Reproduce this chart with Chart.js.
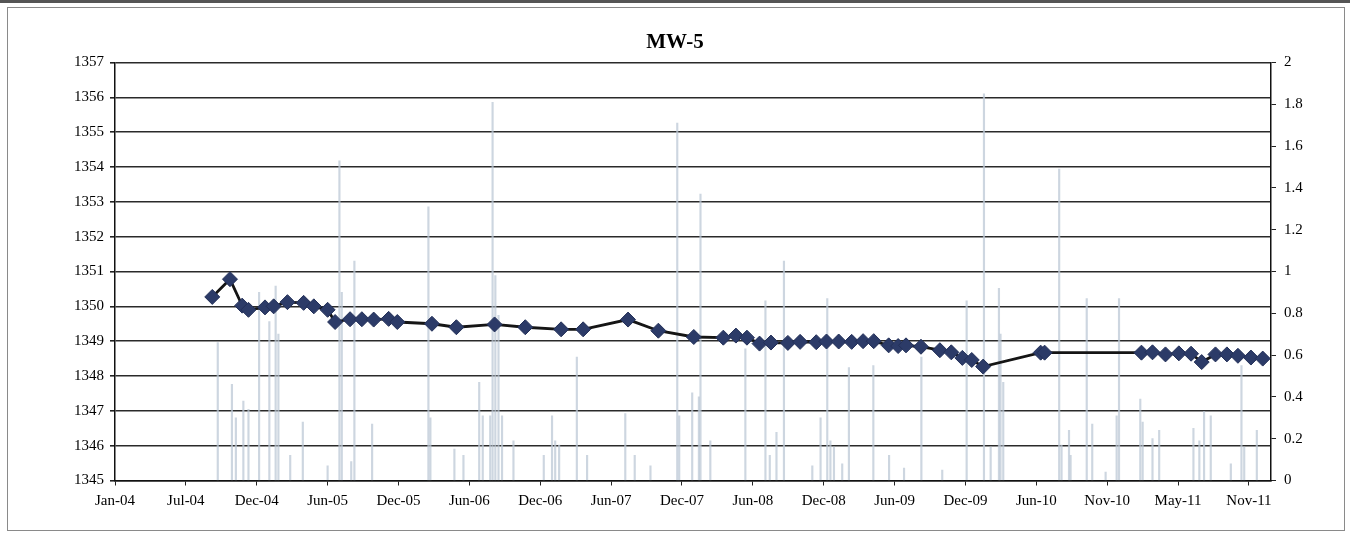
<!DOCTYPE html>
<html>
<head>
<meta charset="utf-8">
<script src="https://cdn.jsdelivr.net/npm/chart.js@4"></script>
<style>
  html, body { margin: 0; padding: 0; background: #fff; }
  #wrap { position: relative; width: 1350px; height: 536px; overflow: hidden; }
  #topband { position: absolute; left: 0; top: 0; width: 1350px; height: 3px; background: #555; }
  #frame { position: absolute; left: 7px; top: 7px; width: 1336px; height: 522px; border: 1px solid #8a8a8a; }
  canvas { position: absolute; left: 0; top: 0; }
</style>
</head>
<body>
<div id="wrap">
  <div id="topband"></div>
  <div id="frame"></div>
  <canvas id="chart" width="1350" height="536"></canvas>
</div>
<script>
// x axis: ticks every 180 days starting Jan 6, 2004
const xTickLabels = ["Jan-04", "Jul-04", "Dec-04", "Jun-05", "Dec-05", "Jun-06", "Dec-06", "Jun-07",
  "Dec-07", "Jun-08", "Dec-08", "Jun-09", "Dec-09", "Jun-10", "Nov-10", "May-11", "Nov-11"];
const xStart = "2004-01-06";
const xEnd = "2012-01-20";
const xTickStep = 180;

// water level (left axis)
const levelDates = [
  "2004-09-09", "2004-10-24", "2004-11-24", "2004-12-10", "2005-01-21", "2005-02-12", "2005-03-19",
  "2005-04-29", "2005-05-25", "2005-06-29", "2005-07-18", "2005-08-25", "2005-09-24", "2005-10-24",
  "2005-12-01", "2005-12-23", "2006-03-21", "2006-05-22", "2006-08-27", "2006-11-13", "2007-02-12",
  "2007-04-09", "2007-08-01", "2007-10-17", "2008-01-15", "2008-03-30", "2008-05-01", "2008-05-29",
  "2008-06-30", "2008-07-29", "2008-09-10", "2008-10-11", "2008-11-21", "2008-12-17", "2009-01-17",
  "2009-02-19", "2009-03-20", "2009-04-16", "2009-05-24", "2009-06-17", "2009-07-07", "2009-08-14",
  "2009-10-01", "2009-10-30", "2009-11-27", "2009-12-21", "2010-01-19", "2010-06-14", "2010-06-24",
  "2011-02-25", "2011-03-25", "2011-04-27", "2011-05-31", "2011-07-01", "2011-07-28", "2011-09-01",
  "2011-09-30", "2011-10-28", "2011-11-30", "2011-12-30"
];
const levelValues = [
  1350.27, 1350.78, 1350.02, 1349.90, 1349.97, 1350.00, 1350.12,
  1350.10, 1350.00, 1349.90, 1349.55, 1349.63, 1349.63, 1349.62,
  1349.64, 1349.55, 1349.50, 1349.40, 1349.48, 1349.40, 1349.34,
  1349.34, 1349.62, 1349.30, 1349.12, 1349.10, 1349.16, 1349.10,
  1348.93, 1348.96, 1348.95, 1348.98, 1348.97, 1348.99, 1348.99,
  1348.98, 1349.00, 1349.00, 1348.88, 1348.86, 1348.88, 1348.84,
  1348.74, 1348.68, 1348.52, 1348.46, 1348.27, 1348.67, 1348.67,
  1348.67, 1348.68, 1348.62, 1348.65, 1348.64, 1348.40, 1348.62,
  1348.62, 1348.58, 1348.53, 1348.50
];

// precipitation (right axis)
const rainDates = [
  "2004-09-23", "2004-10-29", "2004-11-08", "2004-11-27", "2004-12-10", "2005-01-06", "2005-02-01",
  "2005-02-17", "2005-02-24", "2005-03-26", "2005-04-27", "2005-06-29", "2005-07-29", "2005-08-04",
  "2005-08-28", "2005-09-05", "2005-10-20",
  "2006-03-12", "2006-03-17", "2006-05-17", "2006-06-09", "2006-07-19", "2006-07-28", "2006-08-16",
  "2006-08-22", "2006-08-29", "2006-09-06", "2006-09-15", "2006-10-14", "2006-12-30", "2007-01-20",
  "2007-01-28", "2007-02-07", "2007-03-24", "2007-04-19", "2007-07-25", "2007-08-18", "2007-09-27",
  "2007-12-04", "2007-12-09", "2008-01-11", "2008-01-28", "2008-02-01",
  "2008-02-26", "2008-05-25", "2008-07-15", "2008-07-26", "2008-08-12", "2008-08-31", "2008-11-11",
  "2008-12-02", "2008-12-19", "2008-12-27", "2009-01-05", "2009-01-26", "2009-02-12", "2009-04-15",
  "2009-05-25", "2009-07-02", "2009-08-15", "2009-10-07", "2009-12-08", "2010-01-21", "2010-02-07",
  "2010-02-28", "2010-03-04", "2010-03-11",
  "2010-07-31", "2010-08-06", "2010-08-25", "2010-08-29", "2010-10-09", "2010-10-23", "2010-11-26",
  "2010-12-24", "2010-12-30", "2011-02-22", "2011-02-28", "2011-03-25", "2011-04-11", "2011-07-07",
  "2011-07-22", "2011-08-03", "2011-08-20", "2011-10-10", "2011-11-06", "2011-11-13", "2011-12-15"
];
const rainValues = [
  0.66, 0.46, 0.30, 0.38, 0.34, 0.90, 0.76,
  0.93, 0.70, 0.12, 0.28, 0.07, 1.53, 0.90,
  0.09, 1.05, 0.27,
  1.31, 0.30, 0.15, 0.12, 0.47, 0.31, 0.31,
  1.81, 0.98, 0.79, 0.31, 0.19, 0.12, 0.31,
  0.19, 0.17, 0.59, 0.12, 0.32, 0.12, 0.07,
  1.71, 0.31, 0.42, 0.40, 1.37,
  0.19, 0.63, 0.86, 0.12, 0.23, 1.05, 0.07,
  0.30, 0.87, 0.19, 0.16, 0.08, 0.54, 0.55,
  0.12, 0.06, 0.59, 0.05, 0.86, 1.85, 0.16,
  0.92, 0.70, 0.47,
  1.49, 0.17, 0.24, 0.12, 0.87, 0.27, 0.04,
  0.31, 0.87, 0.39, 0.28, 0.20, 0.24, 0.25,
  0.19, 0.33, 0.31, 0.08, 0.55, 0.16, 0.24
];

function dayNum(s) {
  const [y, m, d] = s.split("-").map(Number);
  return (Date.UTC(y, m - 1, d) - Date.UTC(2004, 0, 1)) / 86400000;
}

const serif = '"Liberation Serif", "Times New Roman", serif';
const tickFont = { family: serif, size: 15 };

const ctx = document.getElementById("chart").getContext("2d");

new Chart(ctx, {
  type: "line",
  data: {
    datasets: [
      {
        label: "MW-5",
        data: levelDates.map((d, i) => ({ x: dayNum(d), y: levelValues[i] })),
        yAxisID: "y",
        borderColor: "#151515",
        borderWidth: 2.8,
        pointStyle: "rectRot",
        pointRadius: 7.5,
        pointBackgroundColor: "#2c3b68",
        pointBorderColor: "#233058",
        pointBorderWidth: 1,
        tension: 0,
        order: 0,
      },
      {
        type: "bar",
        label: "Precipitation",
        data: rainDates.map((d, i) => ({ x: dayNum(d), y: rainValues[i] })),
        yAxisID: "y2",
        backgroundColor: "rgba(188,200,214,0.75)",
        barThickness: 1.5,
        grouped: false,
        order: 1,
      },
    ],
  },
  options: {
    responsive: false,
    animation: false,
    layout: { padding: 0 },
    plugins: {
      legend: { display: false },
      tooltip: { enabled: false },
      title: {
        display: true,
        text: "MW-5",
        color: "#000",
        font: { family: serif, size: 21, weight: "bold" },
        padding: { top: 30, bottom: 7.3 },
      },
    },
    scales: {
      x: {
        type: "linear",
        min: dayNum(xStart),
        max: dayNum(xEnd),
        offset: false,
        afterBuildTicks: (scale) => {
          scale.ticks = xTickLabels.map((_, i) => ({ value: dayNum(xStart) + i * xTickStep }));
        },
        afterFit: (scale) => {
          scale.height = 55.5;
        },
        ticks: {
          autoSkip: false,
          maxRotation: 0,
          padding: 7,
          color: "#000",
          font: tickFont,
          callback: (value, index) => xTickLabels[index],
        },
        grid: {
          offset: false,
          drawOnChartArea: false,
          drawTicks: true,
          tickLength: 5,
          tickColor: "#222",
        },
        border: { display: true, color: "#111", width: 1.5 },
      },
      y: {
        position: "left",
        min: 1345,
        max: 1357,
        afterFit: (scale) => {
          scale.width = 115;
        },
        ticks: {
          stepSize: 1,
          padding: 6,
          color: "#000",
          font: tickFont,
          callback: (v) => String(v),
        },
        grid: {
          color: "#2a2a2a",
          lineWidth: 1.6,
          tickLength: 5,
          tickColor: "#222",
        },
        border: { display: true, color: "#111", width: 1.5 },
      },
      y2: {
        position: "right",
        min: 0,
        max: 2,
        afterFit: (scale) => {
          scale.width = 79;
        },
        ticks: {
          stepSize: 0.2,
          padding: 8,
          color: "#000",
          font: tickFont,
          callback: (v) => String(+v.toFixed(1)),
        },
        grid: {
          drawOnChartArea: false,
          tickLength: 5,
          tickColor: "#222",
        },
        border: { display: true, color: "#111", width: 1.5 },
      },
    },
  },
});
</script>
</body>
</html>
